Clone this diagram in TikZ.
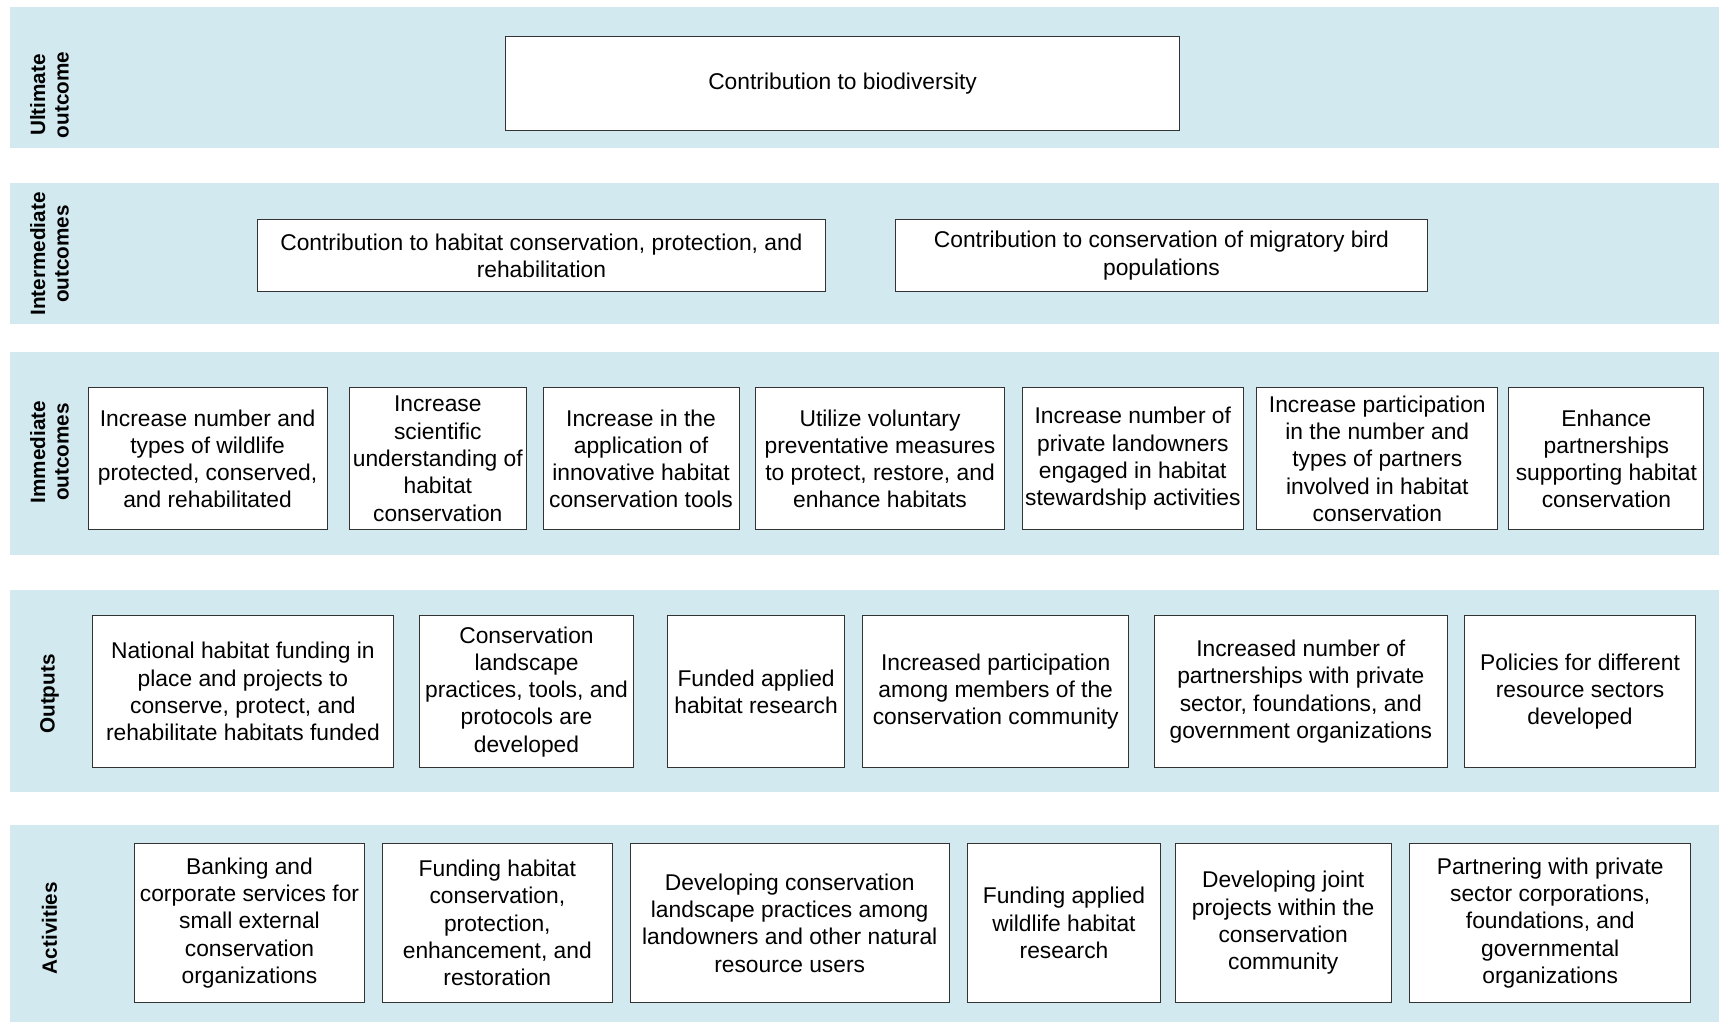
\documentclass[tikz,border=0pt]{standalone}
\usepackage{fontspec}
\setmainfont{Liberation Sans}
\usepackage{tikz}
\definecolor{bandblue}{RGB}{209,233,239}

\begin{document}
\begin{tikzpicture}[x=1pt,y=-1pt,
	band/.style={fill=bandblue},
	lbl/.style={rotate=90,align=center,font=\fontsize{20.7}{23.5}\selectfont\bfseries},
	box/.style={draw=black!80,line width=1pt,fill=white,align=center,inner sep=2pt,
		font=\fontsize{22.8}{27.3}\selectfont}]
	\useasboundingbox (0,0) rectangle (1727,1022);

	% bands
	\fill[band] (10,6.6) rectangle (1719,147.6);
	\fill[band] (10,183) rectangle (1719,324);
	\fill[band] (10,352.4) rectangle (1719,555);
	\fill[band] (10,590) rectangle (1719,792);
	\fill[band] (10,825) rectangle (1719,1022);

	\node[lbl] (lult) at (49.6,95) {Ultimate\\outcome};
	\node[lbl] (lint) at (49.6,254) {Intermediate\\outcomes};
	\node[lbl] (limm) at (49.6,452) {Immediate\\outcomes};
	\node[lbl] (lout) at (49.6,694) {Outputs};
	\node[lbl] (lact) at (49.6,928) {Activities};

	% ultimate and intermediate outcomes
	\node[box,minimum width=674,minimum height=93.7] (ult) at (842.6,83.2) {Contribution to biodiversity};
	\begin{scope}[every node/.style={box,minimum height=72.7}]
		\node[minimum width=567.3] (int1) at (541.4,255.5) {Contribution to habitat conservation, protection, and\\rehabilitation};
		\node[minimum width=532] (int2) at (1161.4,255.5) {Contribution to conservation of migratory bird\\populations};
	\end{scope}

	% immediate outcomes
	\begin{scope}[every node/.style={box,minimum height=142}]
		\node[minimum width=239] (imm1) at (207.6,458.8) {Increase number and\\types of wildlife\\protected, conserved,\\and rehabilitated};
		\node[minimum width=177.4] (imm2) at (437.8,458.8) {Increase\\scientific\\understanding of\\habitat\\conservation};
		\node[minimum width=196] (imm3) at (641,458.8) {Increase in the\\application of\\innovative habitat\\conservation tools};
		\node[minimum width=249] (imm4) at (880,458.8) {Utilize voluntary\\preventative measures\\to protect, restore, and\\enhance habitats};
		\node[minimum width=221.4] (imm5) at (1132.8,458.8) {Increase number of\\private landowners\\engaged in habitat\\stewardship activities};
		\node[minimum width=241.2] (imm6) at (1377.3,458.8) {Increase participation\\in the number and\\types of partners\\involved in habitat\\conservation};
		\node[minimum width=195] (imm7) at (1606.4,458.8) {Enhance\\partnerships\\supporting habitat\\conservation};
	\end{scope}

	% outputs
	\begin{scope}[every node/.style={box,minimum height=152}]
		\node[minimum width=300.7] (out1) at (242.9,691.7) {National habitat funding in\\place and projects to\\conserve, protect, and\\rehabilitate habitats funded};
		\node[minimum width=213.7] (out2) at (526.5,691.7) {Conservation\\landscape\\practices, tools, and\\protocols are\\developed};
		\node[minimum width=177.4] (out3) at (756.1,691.7) {Funded applied\\habitat research};
		\node[minimum width=266.5] (out4) at (995.7,691.7) {Increased participation\\among members of the\\conservation community};
		\node[minimum width=292.9] (out5) at (1300.8,691.7) {Increased number of\\partnerships with private\\sector, foundations, and\\government organizations};
		\node[minimum width=230.1] (out6) at (1580,691.7) {Policies for different\\resource sectors\\developed};
	\end{scope}

	% activities
	\begin{scope}[every node/.style={box,minimum height=158.6}]
		\node[minimum width=230.2] (act1) at (249.5,923) {Banking and\\corporate services for\\small external\\conservation\\organizations};
		\node[minimum width=230.2] (act2) at (497.3,923) {Funding habitat\\conservation,\\protection,\\enhancement, and\\restoration};
		\node[minimum width=319.4] (act3) at (789.7,923) {Developing conservation\\landscape practices among\\landowners and other natural\\resource users};
		\node[minimum width=193.9] (act4) at (1064,923) {Funding applied\\wildlife habitat\\research};
		\node[minimum width=215.9] (act5) at (1283.2,923) {Developing joint\\projects within the\\conservation\\community};
		\node[minimum width=280.8] (act6) at (1550.2,923) {Partnering with private\\sector corporations,\\foundations, and\\governmental\\organizations};
	\end{scope}
\end{tikzpicture}
\end{document}
